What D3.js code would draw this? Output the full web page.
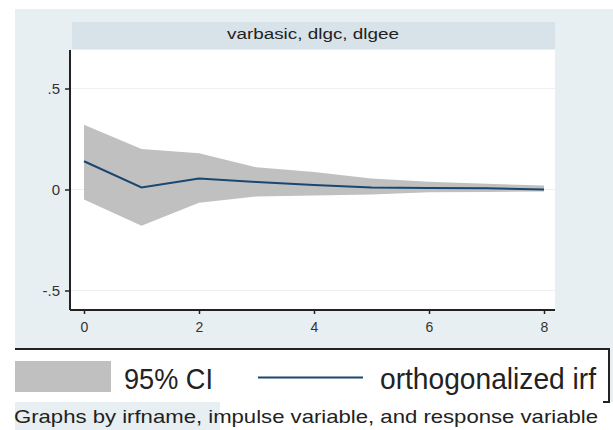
<!DOCTYPE html>
<html><head><meta charset="utf-8">
<script src="https://cdn.jsdelivr.net/npm/d3@7"></script>
<style>body{margin:0;background:#fff}svg{display:block}</style>
</head><body><svg id="c" width="613" height="430"></svg>
<script>
const steps = [0,1,2,3,4,5,6,7,8];
const irf   = [0.14, 0.01, 0.055, 0.037, 0.022, 0.01, 0.008, 0.006, 0.0];
const upper = [0.32, 0.20, 0.18, 0.11, 0.087, 0.055, 0.038, 0.028, 0.02];
const lower = [-0.05, -0.18, -0.065, -0.035, -0.03, -0.025, -0.014, -0.012, -0.01];
const xTicks = [0,2,4,6,8];
const yTicks = [0.5, 0, -0.5];
const yTickLabels = [".5", "0", "-.5"];
const title = "varbasic, dlgc, dlgee";
const legendLabels = ["95% CI", "orthogonalized irf"];
const note = "Graphs by irfname, impulse variable, and response variable";

const svg = d3.select("#c");
const bg = "#e8eff2";
svg.append("rect").attr("x",15).attr("y",9).attr("width",598).attr("height",393).attr("fill",bg);
svg.append("rect").attr("x",15).attr("y",402).attr("width",205).attr("height",28).attr("fill",bg);

// title strip
svg.append("rect").attr("x",72).attr("y",22).attr("width",483).attr("height",27).attr("fill","#d7e3e9");
svg.append("text").attr("x",313).attr("y",39).attr("text-anchor","middle")
  .attr("font-family","Liberation Sans, Arial, sans-serif").attr("font-size",14)
  .attr("textLength",172).attr("lengthAdjust","spacingAndGlyphs").attr("fill","#222").text(title);

// plot area
const P = {l:70, r:555, t:50, b:310};
svg.append("rect").attr("x",P.l).attr("y",P.t).attr("width",P.r-P.l).attr("height",P.b-P.t).attr("fill","#fff");

const x = d3.scaleLinear().domain([0,8]).range([84,544]);
const y = d3.scaleLinear().domain([0.5,-0.5]).range([88.5,290.5]);

// gridlines
svg.append("g").selectAll("line").data(yTicks).join("line")
  .attr("x1",P.l).attr("x2",P.r).attr("y1",d=>y(d)).attr("y2",d=>y(d))
  .attr("stroke","#eaf0f3").attr("stroke-width",1.2);

const data = steps.map((s,i)=>({s, irf:irf[i], lo:lower[i], hi:upper[i]}));
svg.append("path").datum(data)
  .attr("d", d3.area().x(d=>x(d.s)).y0(d=>y(d.lo)).y1(d=>y(d.hi)))
  .attr("fill","#c0c0c0");
svg.append("path").datum(data)
  .attr("d", d3.line().x(d=>x(d.s)).y(d=>y(d.irf)))
  .attr("fill","none").attr("stroke","#1a476f").attr("stroke-width",2);

// axes
const yAxis = d3.axisLeft(y).tickValues(yTicks).tickSize(5).tickPadding(5)
  .tickFormat((d,i)=>yTickLabels[i]);
const gy = svg.append("g").attr("transform",`translate(${P.l},0)`).call(yAxis);
gy.select(".domain").attr("d",`M0,${P.t}V${P.b}`).attr("stroke","#222").attr("stroke-width",2);
gy.selectAll(".tick line").attr("stroke","#222").attr("stroke-width",1.5);
gy.selectAll("text").attr("font-family","Liberation Sans, Arial, sans-serif").attr("font-size",15).attr("fill","#333");

const xAxis = d3.axisBottom(x).tickValues(xTicks).tickSize(4).tickPadding(8).tickFormat(d3.format("d"));
const gx = svg.append("g").attr("transform",`translate(0,${P.b})`).call(xAxis);
gx.select(".domain").attr("d",`M${P.l},0H${P.r}`).attr("stroke","#222").attr("stroke-width",2);
gx.selectAll(".tick line").attr("stroke","#222").attr("stroke-width",1.5);
gx.selectAll("text").attr("font-family","Liberation Sans, Arial, sans-serif").attr("font-size",14).attr("fill","#333");

// legend
svg.append("rect").attr("x",15).attr("y",349).attr("width",594).attr("height",53).attr("fill","#fff");
svg.append("path").attr("d","M15,349H609V402H603").attr("fill","none").attr("stroke","#222").attr("stroke-width",2);
svg.append("rect").attr("x",15).attr("y",361).attr("width",96).attr("height",31).attr("fill","#c0c0c0");
svg.append("text").attr("x",124).attr("y",389).attr("font-family","Liberation Sans Narrow, Arial Narrow, sans-serif")
  .attr("font-size",29).attr("textLength",89).attr("lengthAdjust","spacingAndGlyphs").attr("fill","#222").text(legendLabels[0]);
svg.append("line").attr("x1",258).attr("x2",363).attr("y1",377.5).attr("y2",377.5).attr("stroke","#1a476f").attr("stroke-width",2);
svg.append("text").attr("x",380).attr("y",389).attr("font-family","Liberation Sans Narrow, Arial Narrow, sans-serif")
  .attr("font-size",29).attr("textLength",216).attr("lengthAdjust","spacingAndGlyphs").attr("fill","#222").text(legendLabels[1]);

// note
svg.append("text").attr("x",14).attr("y",423).attr("font-family","Liberation Sans, Arial, sans-serif")
  .attr("font-size",19).attr("textLength",584).attr("lengthAdjust","spacingAndGlyphs").attr("fill","#222").text(note);
</script></body></html>
